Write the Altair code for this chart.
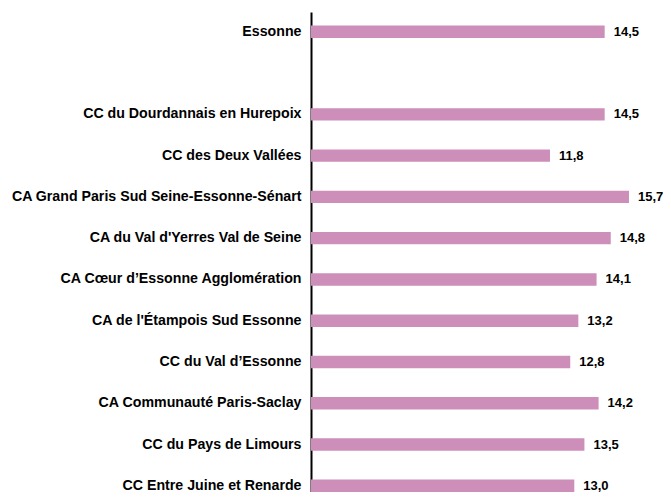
import altair as alt
import pandas as pd

names = [
    "Essonne",
    " ",
    "CC du Dourdannais en Hurepoix",
    "CC des Deux Vallées",
    "CA Grand Paris Sud Seine-Essonne-Sénart",
    "CA du Val d'Yerres Val de Seine",
    "CA Cœur d’Essonne Agglomération",
    "CA de l'Étampois Sud Essonne",
    "CC du Val d’Essonne",
    "CA Communauté Paris-Saclay",
    "CC du Pays de Limours",
    "CC Entre Juine et Renarde",
]
values = [14.5, None, 14.5, 11.8, 15.7, 14.8, 14.1, 13.2, 12.8, 14.2, 13.5, 13.0]

rows = []
for n, v in zip(names, values):
    if v is not None:
        rows.append({"name": n, "value": v, "label": f"{v:.1f}".replace(".", ",")})
df = pd.DataFrame(rows)

FONT = "Liberation Sans"

y = alt.Y(
    "name:N",
    scale=alt.Scale(domain=names, paddingInner=0.7, paddingOuter=0.165, align=1),
    axis=alt.Axis(
        title=None,
        ticks=False,
        labelPadding=10,
        labelFont=FONT,
        labelFontSize=14.2,
        labelFontWeight="bold",
        labelColor="#000000",
        domainColor="#000000",
        domainWidth=2,
        labelLimit=400,
    ),
)
x = alt.X("value:Q", scale=alt.Scale(domain=[0, 17.38], nice=False), axis=None)

bars = alt.Chart(df).mark_bar(color="#CD8FB9").encode(x=x, y=y)
text = alt.Chart(df).mark_text(
    align="left", baseline="middle", dx=9, font=FONT, fontSize=13,
    fontWeight="bold", color="#000000"
).encode(x=x, y=y, text="label:N")

chart = (bars + text).properties(
    width=352,
    height=480,
    padding={"left": 303, "top": 4, "right": 0, "bottom": 0},
    autosize="none",
).configure_view(stroke=None).configure_axis(grid=False)

chart.save("out.html", embed_options={"renderer": "svg", "actions": False})
